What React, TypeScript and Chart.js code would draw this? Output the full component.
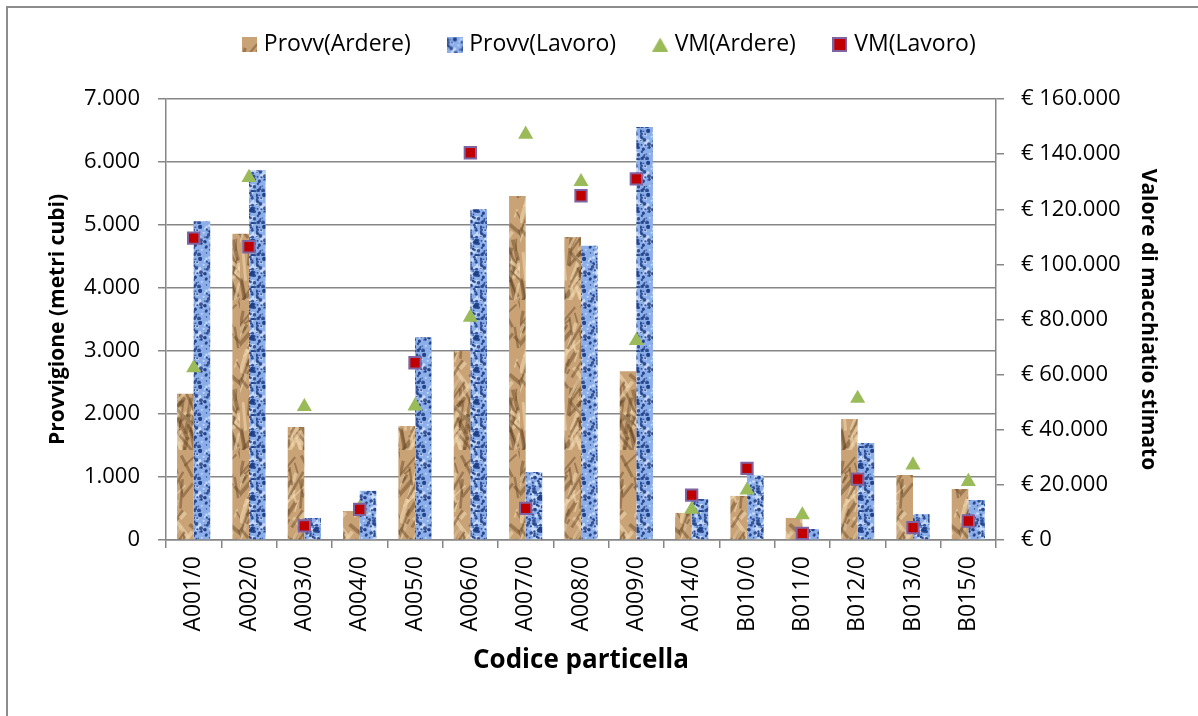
import React, { useEffect, useRef } from 'react';
import { Chart, registerables } from 'chart.js';

Chart.register(...registerables);

const categories = ['A001/0', 'A002/0', 'A003/0', 'A004/0', 'A005/0', 'A006/0', 'A007/0', 'A008/0', 'A009/0', 'A014/0', 'B010/0', 'B011/0', 'B012/0', 'B013/0', 'B015/0'];
const provvArdere = [2320, 4860, 1795, 460, 1810, 3000, 5460, 4810, 2680, 430, 700, 350, 1920, 1030, 810];
const provvLavoro = [5060, 5870, 350, 780, 3220, 5250, 1080, 4670, 6555, 650, 1030, 175, 1540, 410, 635];
const vmArdere = [62400, 131500, 48400, 11500, 48600, 80800, 147200, 130000, 72300, 11100, 18100, 9100, 51400, 27200, 21200];
const vmLavoro = [109500, 106400, 5100, 11100, 64300, 140500, 11500, 124900, 131000, 16300, 26000, 2400, 22100, 4500, 6900];

const seriesNames = ['Provv(Ardere)', 'Provv(Lavoro)', 'VM(Ardere)', 'VM(Lavoro)'];
const leftMax = 7000;
const leftStep = 1000;
const rightMax = 160000;
const rightStep = 20000;
const xTitle = 'Codice particella';
const leftTitle = 'Provvigione (metri cubi)';
const rightTitle = 'Valore di macchiatio stimato';

const FONT = "'Open Sans', 'Noto Sans', sans-serif";
const GRID = '#868686';
const GREEN = '#9bbb59';
const RED = '#c00000';
const PURPLE = '#8064a2';
const LEGEND_CENTER = 611;
const LEGEND_TOP = -8;

const fmt = (v: number) => Math.round(v).toString().replace(/\B(?=(\d{3})+(?!\d))/g, '.');

function hash(n: number) {
  const s = Math.sin(n * 12.9898 + 78.233) * 43758.5453;
  return s - Math.floor(s);
}

function brownTile() {
  const c = document.createElement('canvas');
  c.width = 40;
  c.height = 150;
  const g = c.getContext('2d')!;
  g.fillStyle = '#c9a276';
  g.fillRect(0, 0, 40, 150);
  for (let k = 0; k < 90; k++) {
    const x = hash(k) * 40;
    const y = hash(k + 500) * 150;
    const len = 8 + hash(k + 900) * 26;
    const ang = Math.PI / 2 + (hash(k + 1300) - 0.5) * 1.8;
    g.strokeStyle = k % 3 === 0 ? 'rgba(240,215,175,0.6)' : 'rgba(100,68,36,0.45)';
    g.lineWidth = 1.5 + hash(k + 1700) * 3;
    g.beginPath();
    g.moveTo(x, y);
    g.lineTo(x + Math.cos(ang) * len, y + Math.sin(ang) * len);
    g.stroke();
  }
  return c;
}

function blueTile() {
  const c = document.createElement('canvas');
  c.width = 32;
  c.height = 32;
  const g = c.getContext('2d')!;
  g.fillStyle = '#8cafe9';
  g.fillRect(0, 0, 32, 32);
  for (let k = 0; k < 40; k++) {
    g.fillStyle = 'rgba(205,222,250,0.9)';
    g.beginPath();
    g.arc(hash(k + 3000) * 32, hash(k + 3500) * 32, 0.8 + hash(k + 3900) * 1.6, 0, Math.PI * 2);
    g.fill();
  }
  for (let k = 0; k < 80; k++) {
    g.fillStyle = 'rgba(30,62,135,0.85)';
    g.beginPath();
    g.arc(hash(k + 2000) * 32, hash(k + 2500) * 32, 0.6 + hash(k + 2900) * 1.4, 0, Math.PI * 2);
    g.fill();
  }
  return c;
}

function icon(w: number, h: number, paint: (g: CanvasRenderingContext2D) => void) {
  const c = document.createElement('canvas');
  c.width = w;
  c.height = h;
  paint(c.getContext('2d')!);
  return c;
}

const layoutFix = {
  id: 'layoutFix',
  beforeLayout(chart: any) {
    const lg = chart.legend;
    if (lg && !lg.__patched) {
      const f = lg.fit.bind(lg);
      lg.fit = function () {
        f();
        this.height = 99;
      };
      lg.__patched = true;
    }
  },
  afterLayout(chart: any) {
    const lg = chart.legend;
    if (lg) {
      lg.left = 0;
      lg.right = LEGEND_CENTER * 2;
      lg.top = LEGEND_TOP;
    }
  },
};

function ChartView() {
  const ref = useRef<HTMLCanvasElement | null>(null);
  useEffect(() => {
    const canvas = ref.current!;
    const ctx = canvas.getContext('2d')!;
    const bTile = brownTile();
    const lTile = blueTile();
    const brown = ctx.createPattern(bTile, 'repeat')!;
    const blue = ctx.createPattern(lTile, 'repeat')!;
    const icons = [
      icon(15, 15, (g) => { g.fillStyle = g.createPattern(bTile, 'repeat')!; g.fillRect(0, 0, 15, 15); }),
      icon(16, 16, (g) => { g.fillStyle = g.createPattern(lTile, 'repeat')!; g.fillRect(0, 0, 16, 16); }),
      icon(16, 14, (g) => { g.fillStyle = GREEN; g.beginPath(); g.moveTo(8, 0); g.lineTo(16, 14); g.lineTo(0, 14); g.closePath(); g.fill(); }),
      icon(15, 15, (g) => { g.fillStyle = PURPLE; g.fillRect(0, 0, 15, 15); g.fillStyle = RED; g.fillRect(2, 2, 11, 11); }),
    ];
    const chart = new Chart(canvas, {
      type: 'bar',
      data: {
        labels: categories,
        datasets: [
          { type: 'bar', label: seriesNames[0], data: provvArdere, backgroundColor: brown as any, borderWidth: 0, yAxisID: 'y', order: 2, categoryPercentage: 0.6, barPercentage: 1 },
          { type: 'bar', label: seriesNames[1], data: provvLavoro, backgroundColor: blue as any, borderWidth: 0, yAxisID: 'y', order: 2, categoryPercentage: 0.6, barPercentage: 1 },
          { type: 'line', label: seriesNames[2], data: vmArdere, yAxisID: 'y1', showLine: false, pointStyle: 'triangle', pointRadius: 8.7, pointHoverRadius: 8.7, pointBackgroundColor: GREEN, pointBorderColor: GREEN, pointBorderWidth: 0, backgroundColor: GREEN, borderColor: GREEN, order: 1 } as any,
          { type: 'line', label: seriesNames[3], data: vmLavoro, yAxisID: 'y1', showLine: false, pointStyle: 'rect', pointRadius: 8, pointHoverRadius: 8, pointBackgroundColor: RED, pointBorderColor: PURPLE, pointBorderWidth: 2, backgroundColor: RED, borderColor: PURPLE, order: 0 } as any,
        ],
      },
      options: {
        responsive: false,
        animation: false,
        devicePixelRatio: 1,
        layout: { padding: { top: 0, left: 0, right: 0, bottom: 0 } },
        plugins: {
          tooltip: { enabled: false },
          legend: {
            position: 'top',
            labels: {
              usePointStyle: true,
              boxWidth: 6,
              boxHeight: 15,
              padding: 41,
              color: '#000',
              font: { family: FONT, size: 23 },
              sort: (a: any, b: any) => a.datasetIndex - b.datasetIndex,
              generateLabels: (ch: any) => {
                const items = Chart.defaults.plugins.legend.labels.generateLabels(ch);
                return items.map((it: any) => ({ ...it, pointStyle: icons[it.datasetIndex], rotation: 0, lineWidth: 0 }));
              },
            },
          },
        },
        scales: {
          x: {
            type: 'category',
            offset: true,
            grid: { offset: true, drawOnChartArea: false, drawTicks: true, tickLength: 8, color: GRID, lineWidth: 1.5 },
            border: { color: GRID, width: 1.5 },
            ticks: { color: '#000', font: { family: FONT, size: 23 }, minRotation: 90, maxRotation: 90, padding: 8, autoSkip: false },
            title: { display: true, text: xTitle, color: '#000', font: { family: FONT, size: 26, weight: 'bold' }, padding: { top: 0, bottom: 40 } },
            afterFit: (s: any) => { s.height = 176; },
          },
          y: {
            position: 'left',
            min: 0,
            max: leftMax,
            ticks: { stepSize: leftStep, color: '#000', font: { family: FONT, size: 22 }, padding: 18, callback: (v: any) => fmt(Number(v)) },
            grid: { color: GRID, lineWidth: 1.5, tickLength: 8, drawTicks: true },
            border: { color: GRID, width: 1.5 },
            title: { display: true, text: leftTitle, color: '#000', font: { family: FONT, size: 21, weight: 'bold' }, padding: { top: 45, bottom: 0 } },
            afterFit: (s: any) => { s.width = 166; },
          },
          y1: {
            position: 'right',
            min: 0,
            max: rightMax,
            ticks: { stepSize: rightStep, color: '#000', font: { family: FONT, size: 22 }, padding: 17, callback: (v: any) => '€ ' + fmt(Number(v)) },
            grid: { drawOnChartArea: false, color: GRID, lineWidth: 1.5, tickLength: 8, drawTicks: true },
            border: { color: GRID, width: 1.5 },
            title: { display: true, text: rightTitle, color: '#000', font: { family: FONT, size: 21, weight: 'bold' }, padding: { top: 37, bottom: 0 } },
            afterFit: (s: any) => { s.width = 202; },
          },
        },
      } as any,
      plugins: [layoutFix as any],
    });
    return () => chart.destroy();
  }, []);
  return <canvas ref={ref} width={1198} height={716} style={{ position: 'absolute', left: 0, top: 0, display: 'block' }} />;
}

export default function App() {
  return (
    <div style={{ position: 'fixed', left: 0, top: 0, width: 1198, height: 716, overflow: 'hidden', background: '#fff' }}>
      <div style={{ position: 'absolute', left: 6, top: 6, width: 1400, height: 900, border: '2px solid #8c8c8c', boxSizing: 'border-box' }} />
      <ChartView />
    </div>
  );
}
